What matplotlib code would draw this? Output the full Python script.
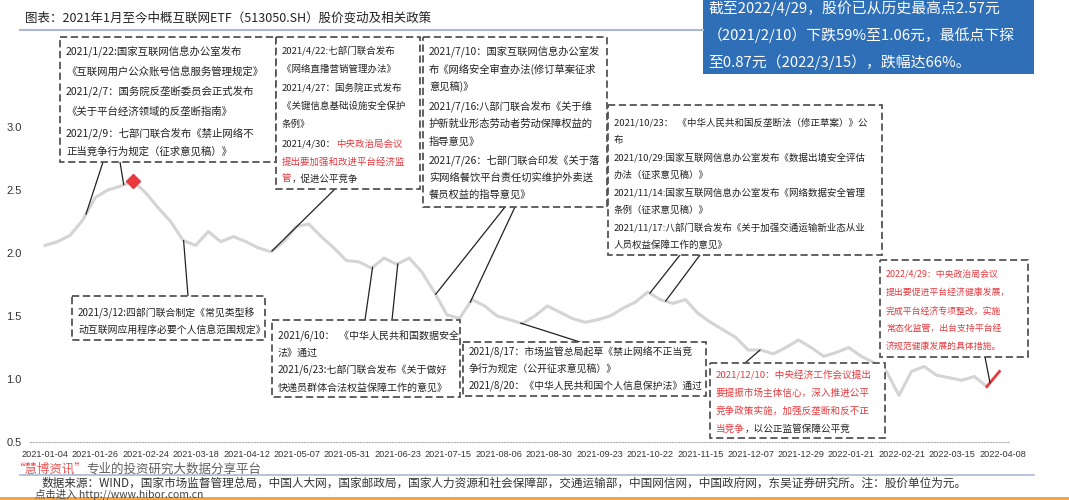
import numpy as np
import matplotlib.pyplot as plt
from matplotlib.patches import Rectangle, ConnectionPatch

plt.rcParams['font.family'] = ['Noto Sans CJK SC', 'DejaVu Sans']

# ---- data: ETF close (yuan), sampled every ~4 trading days from 2021-01-04 to 2022-04-29
price = [2.06, 2.09, 2.14, 2.26, 2.44, 2.50, 2.53, 2.57, 2.48, 2.36,
         2.25, 2.10, 2.06, 2.17, 2.09, 2.13, 2.09, 2.04, 2.01, 2.09,
         2.21, 2.23, 2.13, 2.04, 1.94, 1.93, 1.88, 1.96, 1.91, 1.96,
         1.85, 1.69, 1.51, 1.48, 1.63, 1.58, 1.50, 1.47, 1.44, 1.50,
         1.58, 1.53, 1.48, 1.45, 1.47, 1.50, 1.56, 1.61, 1.69, 1.63,
         1.60, 1.63, 1.52, 1.45, 1.39, 1.33, 1.23, 1.23, 1.20, 1.25,
         1.31, 1.25, 1.18, 1.21, 1.25, 1.18, 1.13, 1.06, 0.87, 1.06,
         1.10, 1.03, 1.01, 0.99, 1.02, 0.94, 1.06]
n_days = 303  # trading-day index of 2022-04-29
tick_labels = ['2021-01-04', '2021-01-26', '2021-02-24', '2021-03-18', '2021-04-12',
               '2021-05-07', '2021-05-31', '2021-06-23', '2021-07-15', '2021-08-06',
               '2021-08-30', '2021-09-23', '2021-10-22', '2021-11-15', '2021-12-07',
               '2021-12-29', '2022-01-21', '2022-02-21', '2022-03-15', '2022-04-08']
tick_step = 16  # trading days between labels

x = np.linspace(0, n_days, len(price))
y = np.array(price)

RED = '#e8383d'
K = '#222222'

fig = plt.figure(figsize=(10.69, 5.0), dpi=100)
W, H = 1069, 500

# main chart axes (pixel layout: x 30..1010, y 127..442)
ax = fig.add_axes([30 / W, 58 / H, 980 / W, 315 / H])
ax.plot(x[:-1], y[:-1], color='#d4d4d4', lw=2.2, zorder=2)
ax.plot(x[-2:], y[-2:], color=RED, lw=2.0, zorder=3)
imax = int(np.argmax(y))
ax.plot(x[imax], y[imax], marker='D', color=RED, ms=7, zorder=4)

ax.set_xlim(-15 / 3.15, 980 / 3.15 - 15 / 3.15)
ax.set_ylim(0.5, 3.0)
ax.set_yticks([0.5, 1.0, 1.5, 2.0, 2.5, 3.0])
ax.set_yticklabels(['0.5', '1.0', '1.5', '2.0', '2.5', '3.0'],
                   family='Liberation Sans', fontsize=8, color='#333333')
ax.set_xticks(np.arange(len(tick_labels)) * tick_step)
ax.set_xticklabels(tick_labels, family='Liberation Sans', fontsize=6.6, color='#333333')
ax.tick_params(axis='both', length=0, pad=6)
for s in ['top', 'right', 'left']:
    ax.spines[s].set_visible(False)
ax.spines['bottom'].set_color('#b0b0b0')
ax.spines['bottom'].set_linestyle(':')
ax.patch.set_alpha(0)

# overlay axes in pixel coordinates for boxes and notes
ov = fig.add_axes([0, 0, 1, 1], zorder=5)
ov.set_xlim(0, W)
ov.set_ylim(H, 0)
ov.axis('off')
ov.patch.set_alpha(0)

renderer = fig.canvas.get_renderer()


def put_line(x0, yc, segments, size, alpha=1.0):
    for txt, col in segments:
        t = ov.text(x0, yc, txt, color=col, fontsize=size, va='center', ha='left', alpha=alpha)
        x0 += t.get_window_extent(renderer=renderer).width


def box(x0, y0, x1, y1, lines, ys, size):
    ov.add_patch(Rectangle((x0, y0), x1 - x0, y1 - y0, facecolor='white',
                           edgecolor='#555555', lw=1.3, ls=(0, (4, 2)), zorder=1))
    for segs, yc in zip(lines, ys):
        if isinstance(segs, str):
            segs = [(segs, K)]
        put_line(x0 + 6, yc, segs, size)


def connect(px, py, day):
    cp = ConnectionPatch(xyA=(px, py), coordsA=ov.transData,
                         xyB=(day, np.interp(day, x, y)), coordsB=ax.transData,
                         color='#222222', lw=0.9)
    fig.add_artist(cp)


# title
ov.text(25, 18, '图表：2021年1月至今中概互联网ETF（513050.SH）股价变动及相关政策',
        fontsize=9, color=K, va='center')
ov.plot([20, 703], [30, 30], color='#a9b9d3', lw=1.5)

# summary box
ov.add_patch(Rectangle((703, -2), 331, 76, facecolor='#2f6fb7', edgecolor='none'))
for yc, s in zip([8, 35, 62], ['截至2022/4/29，股价已从历史最高点2.57元',
                               '（2021/2/10）下跌59%至1.06元，最低点下探',
                               '至0.87元（2022/3/15），跌幅达66%。']):
    ov.text(708, yc, s, fontsize=10.7, color='white', va='center')

box(60, 37, 276, 162,
    ['2021/1/22:国家互联网信息办公室发布',
     '《互联网用户公众账号信息服务管理规定》',
     '2021/2/7：国务院反垄断委员会正式发布',
     '《关于平台经济领域的反垄断指南》',
     '2021/2/9：七部门联合发布《禁止网络不',
     '正当竞争行为规定（征求意见稿）》'],
    [51, 71, 91, 112, 133, 152], 7.5)

box(276, 37, 420, 189,
    ['2021/4/22:七部门联合发布',
     '《网络直播营销管理办法》',
     '2021/4/27：国务院正式发布',
     '《关键信息基础设施安全保护',
     '条例》',
     [('2021/4/30：', K), ('中央政治局会议', RED)],
     [('提出要加强和改进平台经济监', RED)],
     [('管', RED), ('，促进公平竞争', K)]],
    [51, 69, 88, 106, 124, 144, 162, 179], 6.8)

box(423, 37, 607, 207,
    ['2021/7/10：国家互联网信息办公室发',
     '布《网络安全审查办法(修订草案征求',
     '意见稿)》',
     '2021/7/16:八部门联合发布《关于维',
     '护新就业形态劳动者劳动保障权益的',
     '指导意见》',
     '2021/7/26：七部门联合印发《关于落',
     '实网络餐饮平台责任切实维护外卖送',
     '餐员权益的指导意见》'],
    [51, 69, 87, 106, 124, 142, 160, 178, 195], 7.4)

box(608, 105, 882, 255,
    ['2021/10/23：  《中华人民共和国反垄断法（修正草案）》公',
     '布',
     '2021/10/29:国家互联网信息办公室发布《数据出境安全评估',
     '办法（征求意见稿）》',
     '2021/11/14:国家互联网信息办公室发布《网络数据安全管理',
     '条例（征求意见稿）》',
     '2021/11/17:八部门联合发布《关于加强交通运输新业态从业',
     '人员权益保障工作的意见》'],
    [123, 140, 158, 175, 193, 210, 228, 245], 6.8)

box(72, 296, 265, 340,
    ['2021/3/12:四部门联合制定《常见类型移',
     '动互联网应用程序必要个人信息范围规定》'],
    [313, 330], 7.1)

box(272, 320, 460, 397,
    ['2021/6/10：  《中华人民共和国数据安全',
     '法》通过',
     '2021/6/23:七部门联合发布《关于做好',
     '快递员群体合法权益保障工作的意见》'],
    [336, 353, 370, 388], 7.2)

box(463, 342, 706, 396,
    ['2021/8/17：市场监管总局起草《禁止网络不正当竞',
     '争行为规定（公开征求意见稿）》',
     '2021/8/20：《中华人民共和国个人信息保护法》通过'],
    [352, 369, 386], 7.1)

box(710, 363, 885, 438,
    [[('2021/12/10：中央经济工作会议提出', RED)],
     [('要提振市场主体信心，深入推进公平', RED)],
     [('竞争政策实施，加强反垄断和反不正', RED)],
     [('当竞争', RED), ('，以公正监管保障公平竞', K)]],
    [375, 393, 411, 429], 6.9)

box(880, 260, 1028, 357,
    [[('2022/4/29：中央政治局会议', RED)],
     [('提出要促进平台经济健康发展，', RED)],
     [('完成平台经济专项整改，实施', RED)],
     [('常态化监管，出台支持平台经', RED)],
     [('济规范健康发展的具体措施。', RED)]],
    [275, 293, 311, 329, 347], 6.4)

# connectors from boxes to the price line (trading-day index of each event)
connect(103, 162, 13)
connect(120, 162, 25)
connect(188, 296, 44)
connect(335, 189, 72)
connect(365, 320, 104)
connect(392, 320, 112)
connect(505, 207, 124)
connect(515, 207, 135)
connect(580, 342, 151)
connect(680, 255, 192)
connect(700, 255, 197)
connect(745, 363, 227)
connect(985, 357, 300)

# footer
ov.plot([20, 1034], [475, 475], color='#a9b9d3', lw=1.2)
put_line(12, 469, [('“慧博资讯”', '#e03a3a'), ('专业的投资研究大数据分享平台', '#444444')], 9, alpha=0.85)
ov.text(42, 483, '数据来源：WIND，国家市场监督管理总局，中国人大网，国家邮政局，国家人力资源和社会保障部，'
        '交通运输部，中国网信网，中国政府网，东吴证券研究所。注：股价单位为元。',
        fontsize=8.4, color='#333333', va='center')
ov.text(35, 494, '点击进入 http://www.hibor.com.cn', fontsize=7.5, color='#444444', va='center')
ov.add_patch(Rectangle((0, 497), W, 5, facecolor='#f2a545', edgecolor='none', zorder=0))

fig.savefig('out.png', dpi=100)
